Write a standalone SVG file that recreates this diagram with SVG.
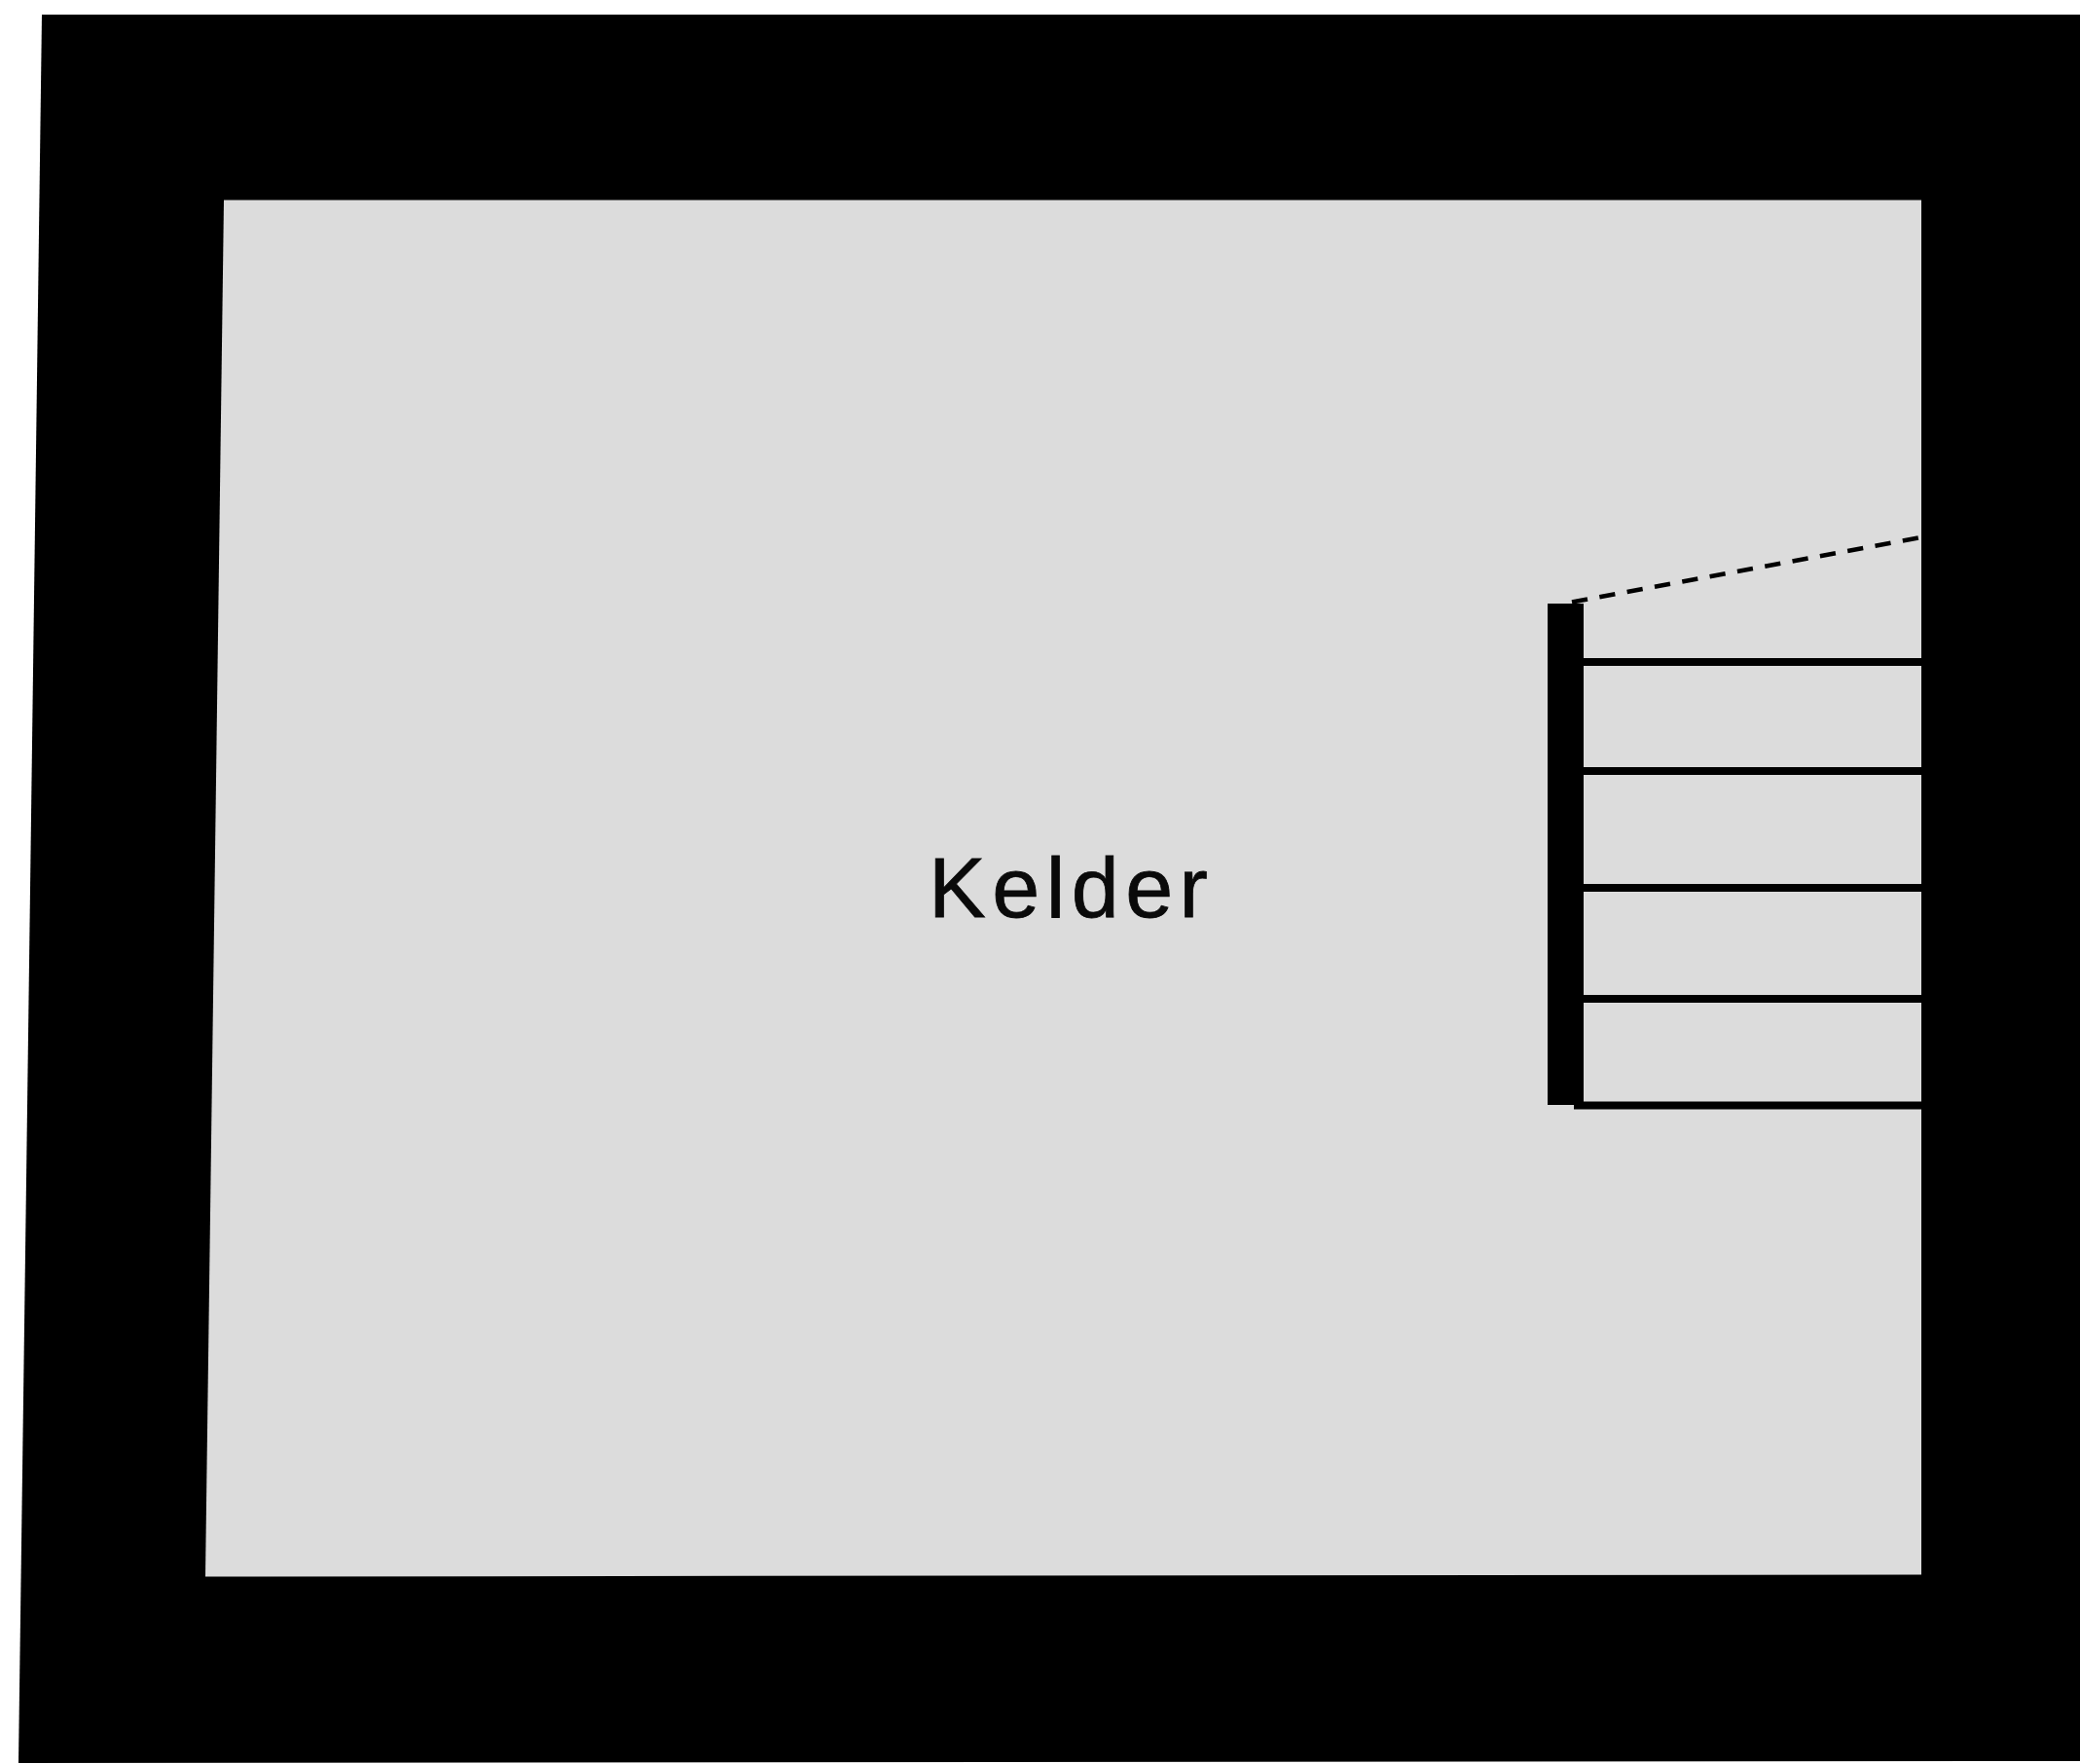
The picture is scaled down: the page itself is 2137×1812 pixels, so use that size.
<svg xmlns="http://www.w3.org/2000/svg" width="2137" height="1812" viewBox="0 0 2137 1812">
  <style>
    .wall { fill: #000; }
    .floor { fill: #dcdcdc; }
    .tread { stroke: #000; stroke-width: 8; fill: none; }
    .edge { stroke: #000; stroke-width: 4.5; fill: none; stroke-dasharray: 16.3 12.5; }
    .label { font-family: "Liberation Sans", Arial, sans-serif; font-size: 88px; letter-spacing: 6.5px; fill: #0a0a0a; stroke: #0a0a0a; stroke-width: 0.8; }
  </style>
  <rect width="2137" height="1812" fill="#fff"/>
  <g id="walls">
    <polygon class="wall" points="43,15 2137,15 2137,1809 19,1811"/>
  </g>
  <g id="floor">
    <polygon class="floor" points="230,205.5 1974,205.5 1974,1617.5 211,1619.5"/>
  </g>
  <g id="stairs">
    <rect class="wall" x="1590" y="620" width="37" height="515"/>
    <line class="tread" x1="1627" y1="680" x2="1974" y2="680"/>
    <line class="tread" x1="1627" y1="792" x2="1974" y2="792"/>
    <line class="tread" x1="1627" y1="912" x2="1974" y2="912"/>
    <line class="tread" x1="1627" y1="1026" x2="1974" y2="1026"/>
    <line class="tread" x1="1617" y1="1135.5" x2="1974" y2="1135.5"/>
    <line class="edge" x1="1615" y1="618.5" x2="1974" y2="552"/>
  </g>
  <g id="kelder-label">
    <text class="label" x="954" y="942">Kelder</text>
  </g>
</svg>
